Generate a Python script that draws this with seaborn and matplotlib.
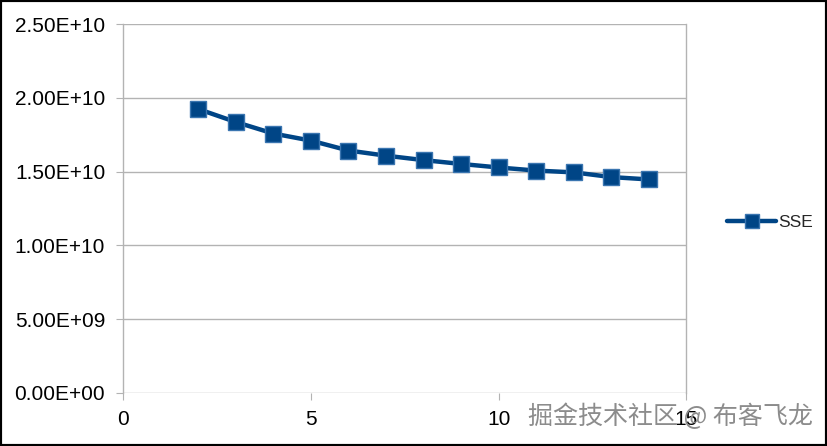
import numpy as np
import pandas as pd
import seaborn as sns
import matplotlib.pyplot as plt

# Data
k_values = [2, 3, 4, 5, 6, 7, 8, 9, 10, 11, 12, 13, 14]
sse_values = [1.924e10, 1.836e10, 1.758e10, 1.710e10, 1.643e10, 1.608e10, 1.578e10,
              1.552e10, 1.528e10, 1.507e10, 1.495e10, 1.463e10, 1.447e10]
x_ticks = [0, 5, 10, 15]
y_ticks = [0, 5e9, 1e10, 1.5e10, 2e10, 2.5e10]

df = pd.DataFrame({'k': k_values, 'SSE': sse_values})

sns.set_style("white")
plt.rcParams['font.family'] = ['Liberation Sans', 'Noto Sans CJK SC', 'DejaVu Sans']

fig = plt.figure(figsize=(8.27, 4.46), dpi=100)
ax = fig.add_axes([0.149, 0.119, 0.681, 0.827])

sns.lineplot(data=df, x='k', y='SSE', ax=ax, color='#004586', linewidth=3.2,
             marker='s', markersize=12, markerfacecolor='#004586',
             markeredgecolor='#3a75b0', markeredgewidth=1, label='SSE')

ax.set_xlim(0, 15)
ax.set_ylim(0, 2.5e10)
ax.set_xticks(x_ticks)
ax.set_yticks(y_ticks)
ax.set_yticklabels(['%.2E' % v for v in y_ticks])
ax.set_xlabel('')
ax.set_ylabel('')
ax.yaxis.grid(True, color='#b3b3b3', linewidth=1)
ax.xaxis.grid(False)
for side in ['top', 'bottom']:
    ax.spines[side].set_visible(False)
for side in ['left', 'right']:
    ax.spines[side].set_color('#b3b3b3')
    ax.spines[side].set_linewidth(1)
ax.tick_params(axis='both', which='both', length=5, color='#b3b3b3', labelsize=15,
               labelcolor='black', direction='out', left=True, bottom=True)
ax.tick_params(axis='y', pad=8)
ax.tick_params(axis='x', pad=7)

leg = ax.legend(loc='center left', bbox_to_anchor=(1.045, 0.462), frameon=False,
                fontsize=12.5, handlelength=2.8, handletextpad=0.1, markerscale=0.8)

# page border and watermark
fig.patches.append(plt.Rectangle((0, 0), 1, 1, transform=fig.transFigure,
                                 fill=False, edgecolor='black', linewidth=3))
fig.text(0.983, 0.065, '掘金技术社区 @ 布客飞龙', ha='right', va='center',
         fontsize=18, color='#8c8c8c', family=['Noto Sans CJK SC', 'DejaVu Sans'])

fig.savefig('out.png', dpi=100)
